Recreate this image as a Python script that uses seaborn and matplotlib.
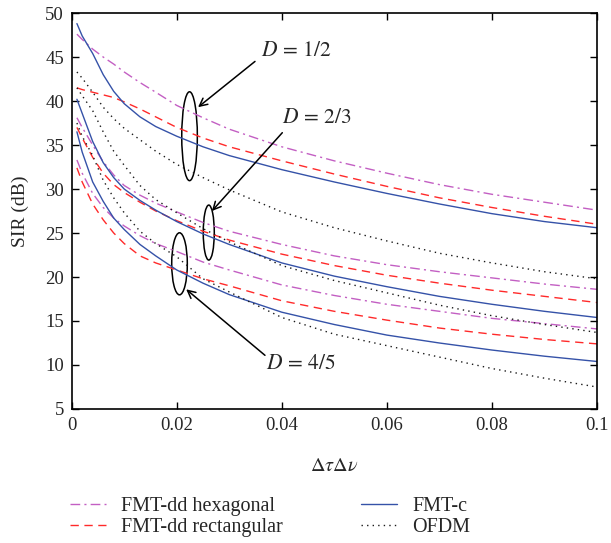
import numpy as np
import pandas as pd
import seaborn as sns
import matplotlib
matplotlib.use('Agg')
import matplotlib.pyplot as plt
from matplotlib.patches import Ellipse
from matplotlib.lines import Line2D
from matplotlib.ticker import FuncFormatter

# Data
delay_doppler = [0.001, 0.002, 0.004, 0.006, 0.008, 0.010, 0.013, 0.016, 0.02,
                 0.025, 0.03, 0.04, 0.05, 0.06, 0.07, 0.08, 0.09, 0.1]

# D = 1/2
hex_d12 = [47.6, 47.0, 45.9, 45.0, 44.2, 43.3, 42.1, 41.0, 39.5, 38.1, 36.8, 34.8, 33.2, 31.8, 30.5, 29.4, 28.5, 27.6]
rect_d12 = [41.5, 41.3, 41.0, 40.7, 40.4, 39.9, 39.1, 38.2, 37.0, 35.8, 34.8, 33.2, 31.7, 30.3, 29.0, 27.9, 26.9, 26.0]
fmtc_d12 = [48.8, 47.4, 45.4, 43.0, 41.1, 39.7, 38.2, 37.1, 36.0, 34.8, 33.8, 32.2, 30.8, 29.5, 28.3, 27.2, 26.3, 25.6]
ofdm_d12 = [43.3, 42.6, 41.0, 39.3, 38.0, 36.9, 35.6, 34.3, 32.8, 31.3, 29.9, 27.4, 25.6, 24.1, 22.7, 21.6, 20.6, 19.8]

# D = 2/3
hex_d23 = [38.1, 37.0, 35.0, 33.1, 31.6, 30.4, 29.3, 28.4, 27.4, 26.2, 25.2, 23.7, 22.4, 21.4, 20.6, 19.9, 19.2, 18.6]
rect_d23 = [37.0, 35.8, 33.6, 31.8, 30.5, 29.6, 28.5, 27.5, 26.4, 25.2, 24.2, 22.6, 21.3, 20.2, 19.3, 18.5, 17.8, 17.1]
fmtc_d23 = [40.2, 38.6, 35.4, 33.0, 31.3, 30.0, 28.7, 27.6, 26.3, 24.9, 23.7, 21.6, 20.1, 18.9, 17.8, 16.9, 16.1, 15.4]
ofdm_d23 = [41.5, 40.6, 38.9, 36.5, 34.3, 32.7, 30.4, 28.8, 27.3, 25.5, 24.0, 21.3, 19.6, 18.2, 16.8, 15.6, 14.6, 13.7]

# D = 4/5
hex_d45 = [33.3, 31.8, 29.5, 27.9, 26.7, 25.8, 24.7, 23.8, 22.9, 21.7, 20.8, 19.1, 17.9, 16.9, 16.1, 15.3, 14.7, 14.1]
rect_d45 = [32.4, 30.8, 28.3, 26.5, 25.0, 23.8, 22.4, 21.6, 20.8, 19.8, 19.0, 17.3, 16.1, 15.1, 14.2, 13.5, 12.9, 12.4]
fmtc_d45 = [36.5, 34.2, 30.8, 28.6, 26.7, 25.4, 23.7, 22.4, 20.8, 19.3, 18.0, 16.0, 14.6, 13.4, 12.5, 11.7, 11.0, 10.4]
ofdm_d45 = [37.5, 36.0, 33.8, 31.0, 29.0, 27.3, 25.2, 23.8, 22.3, 19.8, 18.3, 15.4, 13.5, 12.2, 10.9, 9.6, 8.5, 7.5]

schemes = ['FMT-dd hexagonal', 'FMT-dd rectangular', 'FMT-c', 'OFDM']
d_labels = ['1/2', '2/3', '4/5']
series = {
    '1/2': [hex_d12, rect_d12, fmtc_d12, ofdm_d12],
    '2/3': [hex_d23, rect_d23, fmtc_d23, ofdm_d23],
    '4/5': [hex_d45, rect_d45, fmtc_d45, ofdm_d45],
}

# Long table for seaborn
rows = []
for d in d_labels:
    for name, vals in zip(schemes, series[d]):
        for x, v in zip(delay_doppler, vals):
            rows.append({'x': x, 'sir': v, 'scheme': name, 'D': d})
df = pd.DataFrame(rows)

colors = {'FMT-dd hexagonal': '#c35fc3', 'FMT-dd rectangular': '#ff2a2a',
          'FMT-c': '#3552a8', 'OFDM': '#1a1a1a'}
dashes = {'FMT-dd hexagonal': (7, 3, 1.5, 3), 'FMT-dd rectangular': (6, 4),
          'FMT-c': '', 'OFDM': (1, 3)}

sns.set_style('ticks')
plt.rcParams['font.family'] = ['Liberation Serif', 'DejaVu Serif']
plt.rcParams['mathtext.fontset'] = 'stix'

fig = plt.figure(figsize=(6.11, 5.43), dpi=100)
ax = fig.add_axes([0.1173, 0.2468, 0.8597, 0.7292])

sns.lineplot(data=df, x='x', y='sir', hue='scheme', style='scheme', units='D',
             estimator=None, sort=False, palette=colors, dashes=dashes,
             linewidth=1.0, legend=False, ax=ax)

ax.set_xlim(0, 0.1)
ax.set_ylim(5, 50)
ax.set_xticks([0, 0.02, 0.04, 0.06, 0.08, 0.1])
ax.set_yticks(range(5, 51, 5))
ax.xaxis.set_major_formatter(FuncFormatter(lambda v, p: f'{v:g}'))
ax.tick_params(direction='in', top=True, right=True, length=5, width=1,
               labelsize=13.5, color='black')
ax.tick_params(axis='x', pad=6)
ax.tick_params(axis='y', pad=5.5)
for s in ax.spines.values():
    s.set_linewidth(1.2)
    s.set_color('black')
ax.set_xlabel(r'$\Delta\tau\Delta\nu$', fontsize=14.5, labelpad=16)
ax.set_ylabel('SIR (dB)', fontsize=14, labelpad=12)

# Ellipses and arrows marking the D groups
ax.add_patch(Ellipse((0.02244, 36.0), 0.00297, 10.1, fill=False, ec='black', lw=1.1))
ax.add_patch(Ellipse((0.0261, 25.05), 0.0021, 6.25, fill=False, ec='black', lw=1.1))
ax.add_patch(Ellipse((0.02053, 21.5), 0.00297, 7.05, fill=False, ec='black', lw=1.1))

arrow = dict(arrowstyle='->', lw=1.1, color='black', mutation_scale=14,
             shrinkA=0, shrinkB=0)
ax.annotate('', xy=(0.02406, 39.3), xytext=(0.0349, 44.5), arrowprops=arrow)
ax.annotate('', xy=(0.0267, 27.5), xytext=(0.0401, 36.4), arrowprops=arrow)
ax.annotate('', xy=(0.0218, 18.6), xytext=(0.0368, 11.1), arrowprops=arrow)

ax.text(0.0428, 45.6, r'$D\,=\,1/2$', fontsize=15.5, ha='center', va='center')
ax.text(0.0467, 38.0, r'$D\,=\,2/3$', fontsize=15.5, ha='center', va='center')
ax.text(0.0437, 10.0, r'$D\,=\,4/5$', fontsize=15.5, ha='center', va='center')

handles = [Line2D([], [], color=colors[s], lw=1.0,
                  linestyle='-' if dashes[s] == '' else (0, dashes[s]))
           for s in schemes]
fig.legend(handles, schemes, loc='upper left', bbox_to_anchor=(0.1146, 0.085),
           ncol=2, frameon=False, fontsize=14.5, handlelength=1.8,
           columnspacing=3.85, labelspacing=0.12, handletextpad=0.75,
           borderaxespad=0, borderpad=0)

fig.savefig('out.png', dpi=100)
